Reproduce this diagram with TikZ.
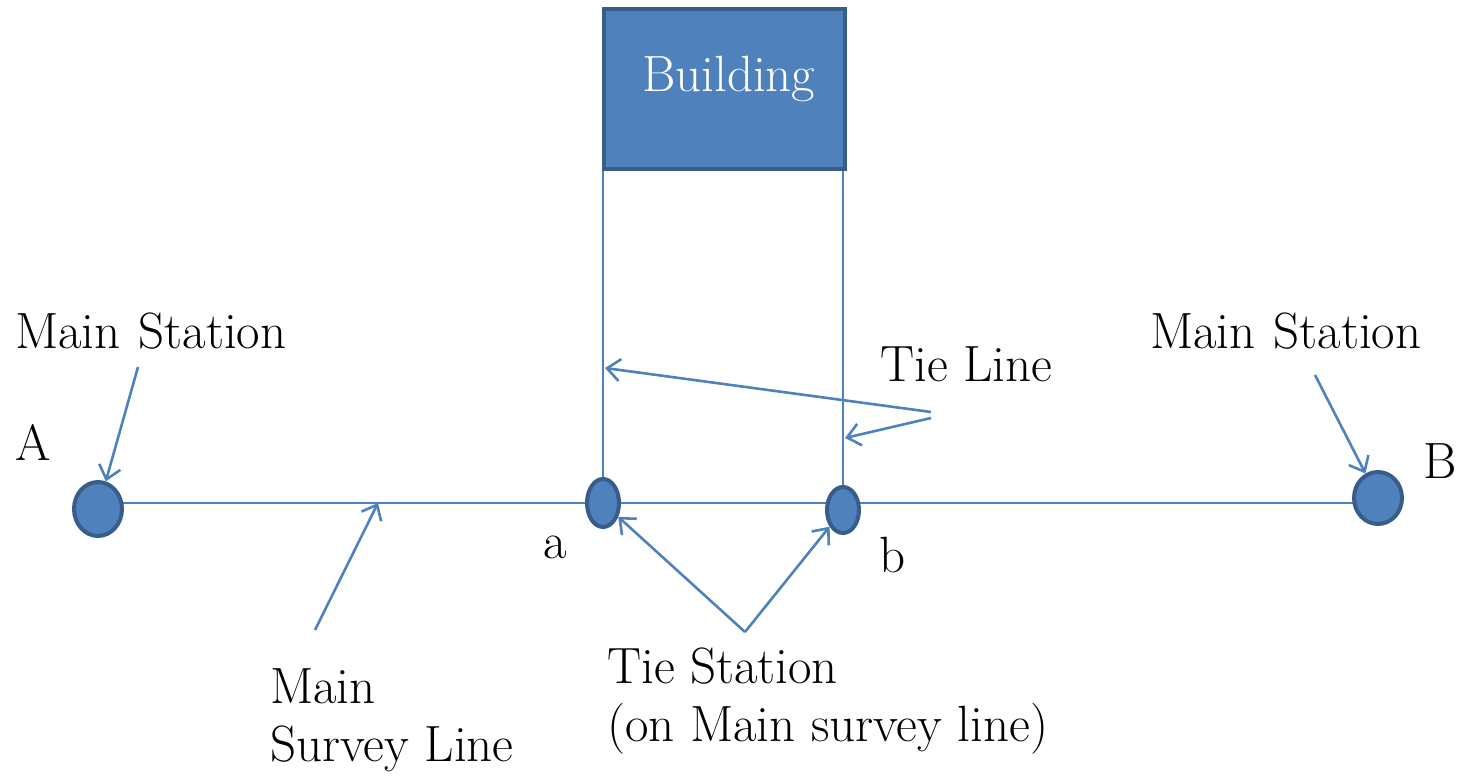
\documentclass[tikz,border=0pt]{standalone}
\usetikzlibrary{arrows.meta,shapes.geometric}
\definecolor{lineblue}{HTML}{4F81BD}
\definecolor{fillblue}{HTML}{4F81BD}
\definecolor{edgeblue}{HTML}{385D8A}
\pgfdeclarelayer{background}
\pgfsetlayers{background,main}
\begin{document}
\begin{tikzpicture}[x=1pt,y=-1pt,
  station/.style={ellipse,draw=edgeblue,fill=fillblue,line width=4pt,inner sep=0pt},
  line/.style={draw=lineblue,line width=2.6pt},
  arr/.style={draw=lineblue,line width=2.6pt,-{Straight Barb[length=13pt,width=22pt,line width=2.6pt]}},
  lbl/.style={anchor=base west,inner sep=0pt,font=\fontsize{51}{58}\selectfont}
]
\useasboundingbox (0,0) rectangle (1460,781);
% building
\node[draw=edgeblue,fill=fillblue,line width=4pt,minimum width=241pt,minimum height=160pt,inner sep=0pt,anchor=north west] (bld) at (602,7) {};
\node[lbl,text=white] (bldtxt) at (642,92) {Building};
% stations
\node[station,minimum width=48pt,minimum height=54pt] (A) at (98,509) {};
\node[station,minimum width=32pt,minimum height=48pt] (a) at (603,503) {};
\node[station,minimum width=32pt,minimum height=46pt] (b) at (843,510) {};
\node[station,minimum width=48pt,minimum height=52pt] (B) at (1378,498) {};
% survey line and offsets
\coordinate (bl) at (603,167);
\coordinate (br) at (843,167);
\begin{pgfonlayer}{background}
\draw[line] (A.center |- a.center) -- (B.center |- a.center);
\draw[line] (bl) -- (a.center);
\draw[line] (br) -- (b.center);
\end{pgfonlayer}
% labels
\node[lbl] (msl) at (15,348) {Main\hspace{0.35em}Station};
\node[lbl] (msr) at (1150,348) {Main\hspace{0.35em}Station};
\node[lbl] (lA) at (15,460) {A};
\node[lbl] (lB) at (1423,478) {B};
\node[lbl] (la) at (543,558) {a};
\node[lbl] (lb) at (879,572) {b};
\node[lbl] (tie) at (880,381) {Tie Line};
\node[lbl,align=left,anchor=north west] (msurv) at (270,668) {Main\\Survey Line};
\node[lbl,align=left,anchor=north west] (tst) at (607,648) {Tie Station\\(on Main survey line)};
% arrows
\coordinate (msAs) at (138,367);
\draw[arr] (msAs) -- (A);
\coordinate (msBs) at (1315,375);
\draw[arr] (msBs) -- (B);
\coordinate (t1s) at (931,412);
\coordinate (t1e) at (605,368);
\coordinate (t2s) at (931,418);
\coordinate (t2e) at (845,438);
\draw[arr] (t1s) -- (t1e);
\draw[arr] (t2s) -- (t2e);
\coordinate (mss) at (315,630);
\coordinate (mse) at (378,503);
\draw[arr] (mss) -- (mse);
\coordinate (tss) at (745,632);
\draw[arr] (tss) -- (a);
\draw[arr] (tss) -- (b);
\end{tikzpicture}
\end{document}
